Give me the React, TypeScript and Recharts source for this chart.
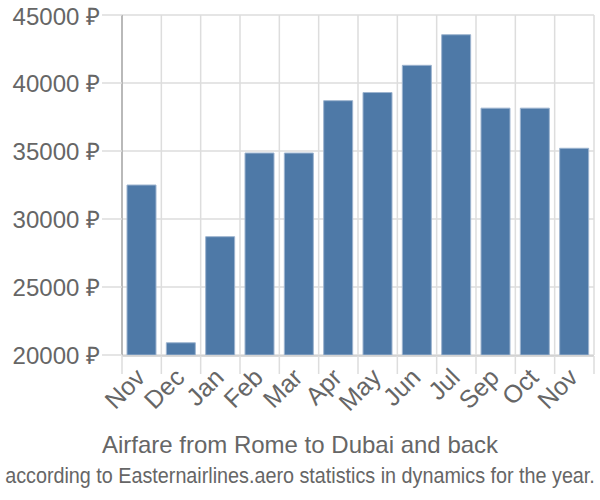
import React, { useLayoutEffect, useRef, useState } from "react";
import { Bar, BarChart, CartesianGrid, XAxis, YAxis } from "recharts";

const months = ["Nov", "Dec", "Jan", "Feb", "Mar", "Apr", "May", "Jun", "Jul", "Sep", "Oct", "Nov"];
const prices = [32500, 20900, 28700, 34850, 34850, 38700, 39300, 41300, 43550, 38150, 38150, 35200];
const yTicks = [20000, 25000, 30000, 35000, 40000, 45000];
const boundaryTicks = [0, 1, 2, 3, 4, 5, 6, 7, 8, 9, 10, 11, 12];

const data = months.map((m, i) => ({ key: i, month: m, price: prices[i] }));

const textColor = "#666";
const font = "'Liberation Sans', Arial, sans-serif";

function MonthTick({ x, y, payload }: any) {
  const tx = x + 5;
  const ty = y + 16;
  return (
    <text
      x={tx}
      y={ty}
      textAnchor="end"
      transform={`rotate(-45 ${tx} ${ty})`}
      fill={textColor}
      fontSize={25}
      fontFamily={font}
    >
      {months[payload.value]}
    </text>
  );
}

// squeezes the subtitle so it spans the full width like the original
function Subtitle({ text }: { text: string }) {
  const ref = useRef<HTMLSpanElement>(null);
  const [scale, setScale] = useState(1);
  useLayoutEffect(() => {
    if (ref.current) {
      const w = ref.current.offsetWidth;
      if (w > 0) setScale(Math.min(1, 590 / w));
    }
  }, [text]);
  return (
    <span
      ref={ref}
      style={{
        position: "absolute",
        left: 300,
        top: 462,
        whiteSpace: "nowrap",
        color: textColor,
        fontFamily: font,
        fontSize: 22,
        lineHeight: "28px",
        transform: `translateX(-50%) scaleX(${scale})`,
        transformOrigin: "center",
      }}
    >
      {text}
    </span>
  );
}

export default function App() {
  return (
    <div style={{ position: "absolute", left: 0, top: 0, width: 600, height: 500, background: "#fff", overflow: "hidden" }}>
      <BarChart
        width={600}
        height={500}
        data={data}
        margin={{ top: 15, right: 6, bottom: 143, left: 0 }}
        barCategoryGap={5}
      >
        <CartesianGrid xAxisId="grid" stroke="#ddd" strokeWidth={1.5} />
        <XAxis
          xAxisId="grid"
          type="number"
          dataKey="key"
          domain={[0, 12]}
          ticks={boundaryTicks}
          tick={() => <g />}
          tickSize={18}
          tickLine={{ stroke: "#ddd", strokeWidth: 1.5 }}
          axisLine={{ stroke: "#ccc", strokeWidth: 1.5 }}
          height={1}
          allowDataOverflow
        />
        <XAxis
          xAxisId="cat"
          dataKey="key"
          type="category"
          axisLine={false}
          tickLine={false}
          tick={<MonthTick />}
          interval={0}
          height={1}
        />
        <YAxis
          domain={[20000, 45000]}
          ticks={yTicks}
          width={122}
          tickSize={20}
          tickMargin={2}
          allowDataOverflow
          tickLine={{ stroke: "#ddd", strokeWidth: 1.5 }}
          axisLine={{ stroke: "#aaa", strokeWidth: 1.5 }}
          tickFormatter={(v: number) => `${v} ₽`}
          tick={{ fill: textColor, fontSize: 24, fontFamily: font }}
        />
        <Bar
          xAxisId="cat"
          dataKey="price"
          fill="#4e79a7"
          stroke="#9db4cf"
          strokeWidth={1}
          isAnimationActive={false}
        />
      </BarChart>
      <div
        style={{
          position: "absolute",
          left: 0,
          top: 431,
          width: 600,
          textAlign: "center",
          color: textColor,
          fontFamily: font,
          fontSize: 24,
          lineHeight: "28px",
        }}
      >
        Airfare from Rome to Dubai and back
      </div>
      <Subtitle text="according to Easternairlines.aero statistics in dynamics for the year." />
    </div>
  );
}
